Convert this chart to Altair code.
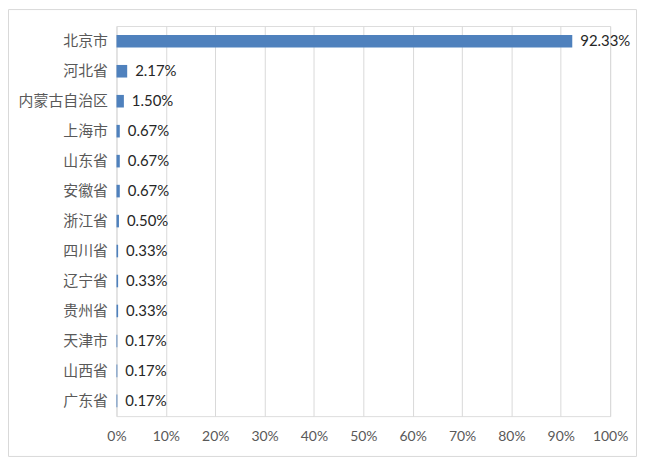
import altair as alt
import pandas as pd

provinces = ["北京市", "河北省", "内蒙古自治区", "上海市", "山东省", "安徽省", "浙江省",
             "四川省", "辽宁省", "贵州省", "天津市", "山西省", "广东省"]
shares = [92.33, 2.17, 1.50, 0.67, 0.67, 0.67, 0.50, 0.33, 0.33, 0.33, 0.17, 0.17, 0.17]

df = pd.DataFrame({"province": provinces, "share": [v / 100 for v in shares]})
df["label"] = [f"{v:.2f}%" for v in shares]

W, H = 496, 392

y_enc = alt.Y("province:N", sort=provinces, title=None,
              scale=alt.Scale(paddingInner=0.58, paddingOuter=0.3),
              axis=alt.Axis(ticks=False, domain=False, labelPadding=9, labelFontSize=15,
                            labelColor="#595959", labelFont="Noto Sans CJK SC", grid=False))
x_enc = alt.X("share:Q", title=None, scale=alt.Scale(domain=[0, 1]),
              axis=alt.Axis(format=".0%", values=[i / 10 for i in range(11)], ticks=False,
                            domain=False, labelPadding=13, labelFontSize=14, labelFlush=False,
                            labelColor="#595959", labelFont="Lato",
                            grid=True, gridColor="#d9d9d9", gridWidth=1))

bars = alt.Chart(df).mark_bar(color="#4F81BD").encode(x=x_enc, y=y_enc)
texts = alt.Chart(df).mark_text(align="left", baseline="middle", dx=8, fontSize=15,
                                font="Lato", color="#262626").encode(
    x="share:Q", y=alt.Y("province:N", sort=provinces), text="label:N")

border = alt.Chart(pd.DataFrame({"a": [0]})).mark_rect(
    fill=None, stroke="#d9d9d9", strokeWidth=1, clip=False).encode(
    x=alt.value(-108.5), x2=alt.value(522.5), y=alt.value(-16.5), y2=alt.value(432.5))

chart = alt.layer(bars, texts, border).properties(
    width=W, height=H,
    autosize=alt.AutoSizeParams(type="none"),
    padding={"left": 109, "top": 17, "right": 28, "bottom": 45},
).configure_view(stroke=None).configure(background="white")

chart.save("out.html", embed_options={"renderer": "svg", "actions": False})
